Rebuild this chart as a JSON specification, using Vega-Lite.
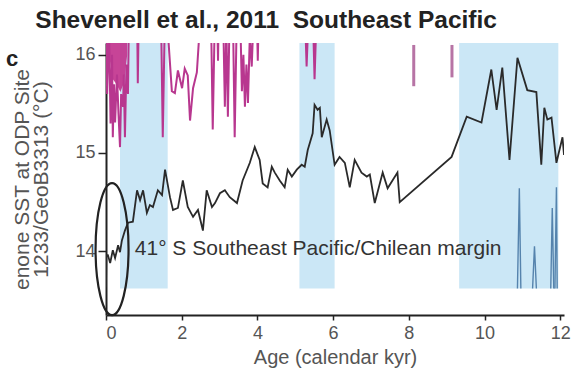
{
  "$schema": "https://vega.github.io/schema/vega-lite/v6.json",
  "width": 458,
  "height": 272,
  "autosize": {"type": "none"},
  "padding": {"left": 106, "top": 43, "right": 8, "bottom": 57},
  "background": "white",
  "config": {
    "view": {"stroke": null},
    "font": "Liberation Sans",
    "axis": {
      "domainColor": "#222", "domainWidth": 2, "tickColor": "#222", "tickWidth": 1.5,
      "labelColor": "#555", "labelFont": "Liberation Sans", "labelFontSize": 18,
      "titleColor": "#555", "titleFont": "Liberation Sans", "titleFontWeight": "normal",
      "grid": false
    }
  },
  "datasets": {
    "bands": [
      {"start": 0.37, "end": 1.63},
      {"start": 5.11, "end": 6.04},
      {"start": 9.33, "end": 11.95}
    ],
    "sst": [
      {"age": 0.0, "sst": 13.63}, {"age": 0.01, "sst": 13.96}, {"age": 0.05, "sst": 13.96},
      {"age": 0.11, "sst": 13.88}, {"age": 0.18, "sst": 14.01}, {"age": 0.24, "sst": 13.93},
      {"age": 0.32, "sst": 14.06}, {"age": 0.37, "sst": 13.99}, {"age": 0.42, "sst": 14.11},
      {"age": 0.5, "sst": 14.21}, {"age": 0.58, "sst": 14.29}, {"age": 0.71, "sst": 14.3},
      {"age": 0.82, "sst": 14.62}, {"age": 0.9, "sst": 14.52}, {"age": 0.98, "sst": 14.62},
      {"age": 1.08, "sst": 14.39}, {"age": 1.16, "sst": 14.47}, {"age": 1.24, "sst": 14.45},
      {"age": 1.37, "sst": 14.62}, {"age": 1.48, "sst": 14.57}, {"age": 1.56, "sst": 14.83},
      {"age": 1.69, "sst": 14.55}, {"age": 1.77, "sst": 14.42}, {"age": 1.9, "sst": 14.44},
      {"age": 2.03, "sst": 14.72}, {"age": 2.16, "sst": 14.45}, {"age": 2.3, "sst": 14.35},
      {"age": 2.43, "sst": 14.42}, {"age": 2.56, "sst": 14.21}, {"age": 2.66, "sst": 14.62},
      {"age": 2.8, "sst": 14.45}, {"age": 2.88, "sst": 14.49}, {"age": 3.01, "sst": 14.59},
      {"age": 3.14, "sst": 14.62}, {"age": 3.27, "sst": 14.55}, {"age": 3.46, "sst": 14.49},
      {"age": 3.61, "sst": 14.72}, {"age": 3.8, "sst": 14.9}, {"age": 3.93, "sst": 15.06},
      {"age": 4.06, "sst": 14.93}, {"age": 4.14, "sst": 14.69}, {"age": 4.27, "sst": 14.65},
      {"age": 4.38, "sst": 14.86}, {"age": 4.46, "sst": 14.8}, {"age": 4.59, "sst": 14.72},
      {"age": 4.72, "sst": 14.65}, {"age": 4.8, "sst": 14.83}, {"age": 4.91, "sst": 14.76},
      {"age": 5.04, "sst": 14.83}, {"age": 5.17, "sst": 14.88}, {"age": 5.25, "sst": 14.86},
      {"age": 5.33, "sst": 15.03}, {"age": 5.46, "sst": 15.2}, {"age": 5.51, "sst": 15.49},
      {"age": 5.59, "sst": 15.44}, {"age": 5.65, "sst": 15.46}, {"age": 5.7, "sst": 15.16},
      {"age": 5.83, "sst": 15.34}, {"age": 5.91, "sst": 15.23}, {"age": 6.04, "sst": 14.88},
      {"age": 6.17, "sst": 14.96}, {"age": 6.31, "sst": 14.9}, {"age": 6.44, "sst": 14.65},
      {"age": 6.57, "sst": 14.93}, {"age": 6.75, "sst": 14.8}, {"age": 6.89, "sst": 14.76},
      {"age": 6.97, "sst": 14.78}, {"age": 7.1, "sst": 14.49}, {"age": 7.31, "sst": 14.8},
      {"age": 7.44, "sst": 14.64}, {"age": 7.7, "sst": 14.8}, {"age": 7.76, "sst": 14.5},
      {"age": 9.13, "sst": 14.96}, {"age": 9.53, "sst": 15.37}, {"age": 9.92, "sst": 15.31},
      {"age": 10.18, "sst": 15.85}, {"age": 10.32, "sst": 15.44}, {"age": 10.47, "sst": 15.87},
      {"age": 10.66, "sst": 14.93}, {"age": 10.87, "sst": 15.97}, {"age": 11.13, "sst": 15.64},
      {"age": 11.37, "sst": 15.62}, {"age": 11.5, "sst": 14.88}, {"age": 11.58, "sst": 15.46},
      {"age": 11.66, "sst": 15.34}, {"age": 11.77, "sst": 15.36}, {"age": 11.9, "sst": 14.9},
      {"age": 12.06, "sst": 15.16}, {"age": 12.1, "sst": 14.98}
    ],
    "pinkfill": [
      {"age": 0.1, "v": 15.95}, {"age": 0.18, "v": 15.75}, {"age": 0.28, "v": 15.7},
      {"age": 0.38, "v": 15.62}, {"age": 0.48, "v": 15.72}, {"age": 0.56, "v": 16.0}
    ],
    "pink": [
      {"age": 0.0, "v": 16.5}, {"age": 0.03, "v": 15.6}, {"age": 0.08, "v": 16.3},
      {"age": 0.12, "v": 15.3}, {"age": 0.16, "v": 16.0}, {"age": 0.18, "v": 15.16},
      {"age": 0.21, "v": 15.7}, {"age": 0.24, "v": 15.31}, {"age": 0.29, "v": 15.8},
      {"age": 0.33, "v": 15.4}, {"age": 0.37, "v": 15.06}, {"age": 0.4, "v": 15.6},
      {"age": 0.45, "v": 15.47}, {"age": 0.47, "v": 15.8}, {"age": 0.5, "v": 15.16},
      {"age": 0.54, "v": 15.9}, {"age": 0.58, "v": 15.6}, {"age": 0.61, "v": 16.5},
      {"age": 0.82, "v": 16.5}, {"age": 0.84, "v": 15.71}, {"age": 0.87, "v": 16.5},
      {"age": 1.45, "v": 16.5}, {"age": 1.5, "v": 15.16}, {"age": 1.56, "v": 16.5},
      {"age": 1.64, "v": 16.2}, {"age": 1.74, "v": 15.63}, {"age": 1.82, "v": 15.61},
      {"age": 1.9, "v": 15.84}, {"age": 2.01, "v": 15.66}, {"age": 2.08, "v": 15.86},
      {"age": 2.16, "v": 15.79}, {"age": 2.22, "v": 15.33}, {"age": 2.3, "v": 15.66},
      {"age": 2.4, "v": 15.82}, {"age": 2.48, "v": 16.3}, {"age": 2.56, "v": 16.5},
      {"age": 2.77, "v": 16.5}, {"age": 2.82, "v": 15.24}, {"age": 2.88, "v": 16.5},
      {"age": 2.93, "v": 16.5}, {"age": 2.96, "v": 15.94}, {"age": 2.98, "v": 16.5},
      {"age": 3.09, "v": 16.5}, {"age": 3.14, "v": 15.47}, {"age": 3.18, "v": 16.3},
      {"age": 3.22, "v": 15.37}, {"age": 3.27, "v": 16.5}, {"age": 3.35, "v": 16.5},
      {"age": 3.4, "v": 15.16}, {"age": 3.46, "v": 16.5}, {"age": 3.54, "v": 16.5},
      {"age": 3.59, "v": 15.63}, {"age": 3.63, "v": 16.0}, {"age": 3.67, "v": 15.47},
      {"age": 3.71, "v": 15.9}, {"age": 3.75, "v": 15.51}, {"age": 3.8, "v": 16.2},
      {"age": 3.85, "v": 15.88}, {"age": 3.91, "v": 16.5}, {"age": 3.98, "v": 16.5},
      {"age": 4.01, "v": 15.94}, {"age": 4.04, "v": 16.5}, {"age": 5.25, "v": 16.5},
      {"age": 5.3, "v": 15.88}, {"age": 5.36, "v": 16.5}, {"age": 5.46, "v": 16.5},
      {"age": 5.51, "v": 15.75}, {"age": 5.57, "v": 16.5}
    ],
    "mauve": [
      {"age": 8.13, "v": 15.68},
      {"age": 9.14, "v": 15.77}
    ],
    "blue": [
      {"spike": "a", "age": 10.87, "v": 13.62}, {"spike": "a", "age": 10.92, "v": 14.64}, {"spike": "a", "age": 10.96, "v": 13.62},
      {"spike": "b", "age": 11.27, "v": 13.62}, {"spike": "b", "age": 11.32, "v": 14.05}, {"spike": "b", "age": 11.37, "v": 13.62},
      {"spike": "c", "age": 11.75, "v": 13.62}, {"spike": "c", "age": 11.79, "v": 14.44}, {"spike": "c", "age": 11.83, "v": 13.62},
      {"spike": "d", "age": 11.86, "v": 13.62}, {"spike": "d", "age": 11.9, "v": 14.65}, {"spike": "d", "age": 11.92, "v": 13.62}
    ],
    "ellipse": [{"age": 0.16, "v": 14.02}],
    "note": [{"age": 0.76, "v": 14.02, "label": "41° S Southeast Pacific/Chilean margin"}],
    "panel": [{"age": -2.48, "v": 15.96, "label": "c"}],
    "heading": [{"age": 4.23, "v": 16.27, "label": "Shevenell et al., 2011\u00a0 Southeast Pacific"}]
  },
  "layer": [
    {
      "data": {"name": "bands"},
      "mark": {"type": "rect", "color": "#cbe7f6", "clip": true},
      "encoding": {
        "x": {"field": "start", "type": "quantitative", "scale": {"domain": [0, 12.1], "nice": false},
          "axis": {"values": [0, 2, 4, 6, 8, 10, 12], "format": "d", "title": "Age (calendar kyr)", "titleFontSize": 20,
            "tickSize": 5, "labelPadding": 4, "titlePadding": 5, "labelFontSize": 18}},
        "x2": {"field": "end"},
        "y": {"datum": 13.62, "type": "quantitative", "scale": {"domain": [13.35, 16.12], "nice": false, "zero": false},
          "axis": {"values": [14, 15, 16], "format": "d", "tickSize": 8, "labelPadding": 3, "labelFontSize": 18,
            "title": ["enone SST at ODP Site", "1233/GeoB3313 (°C)"], "titleFontSize": 21,
            "titleAngle": -90, "titleBaseline": "top", "titleAlign": "center", "titleLineHeight": 19,
            "titleX": -95, "titleY": 136}},
        "y2": {"datum": 16.2}
      }
    },
    {
      "data": {"name": "pinkfill"},
      "mark": {"type": "area", "color": "#c1308c", "opacity": 0.9, "clip": true},
      "encoding": {
        "x": {"field": "age", "type": "quantitative"},
        "y": {"field": "v", "type": "quantitative"},
        "y2": {"datum": 16.3}
      }
    },
    {
      "data": {"name": "pink"},
      "mark": {"type": "line", "color": "#b8378f", "strokeWidth": 2, "clip": true},
      "encoding": {
        "x": {"field": "age", "type": "quantitative"},
        "y": {"field": "v", "type": "quantitative"}
      }
    },
    {
      "data": {"name": "mauve"},
      "mark": {"type": "rule", "color": "#a5518f", "strokeWidth": 3, "opacity": 0.8, "clip": true},
      "encoding": {
        "x": {"field": "age", "type": "quantitative"},
        "y": {"field": "v", "type": "quantitative"},
        "y2": {"datum": 16.1}
      }
    },
    {
      "data": {"name": "blue"},
      "mark": {"type": "line", "color": "#5583ad", "strokeWidth": 1.4, "clip": true},
      "encoding": {
        "x": {"field": "age", "type": "quantitative"},
        "y": {"field": "v", "type": "quantitative"},
        "detail": {"field": "spike"}
      }
    },
    {
      "data": {"name": "sst"},
      "mark": {"type": "line", "color": "#2a2a2a", "strokeWidth": 1.8, "clip": true},
      "encoding": {
        "x": {"field": "age", "type": "quantitative"},
        "y": {"field": "sst", "type": "quantitative"}
      }
    },
    {
      "data": {"name": "ellipse"},
      "mark": {"type": "point", "filled": false, "stroke": "#222", "strokeWidth": 2.2, "opacity": 1, "size": 17424,
        "shape": "M-0.25,0 A0.25,1 0 1,0 0.25,0 A0.25,1 0 1,0 -0.25,0 Z"},
      "encoding": {
        "x": {"field": "age", "type": "quantitative"},
        "y": {"field": "v", "type": "quantitative"}
      }
    },
    {
      "data": {"name": "note"},
      "mark": {"type": "text", "align": "left", "baseline": "middle", "fontSize": 21, "color": "#333", "font": "Liberation Sans"},
      "encoding": {
        "x": {"field": "age", "type": "quantitative"},
        "y": {"field": "v", "type": "quantitative"},
        "text": {"field": "label"}
      }
    },
    {
      "data": {"name": "panel"},
      "mark": {"type": "text", "align": "center", "baseline": "middle", "fontSize": 22, "fontWeight": "bold", "color": "#222", "font": "Liberation Sans"},
      "encoding": {
        "x": {"field": "age", "type": "quantitative"},
        "y": {"field": "v", "type": "quantitative"},
        "text": {"field": "label"}
      }
    },
    {
      "data": {"name": "heading"},
      "mark": {"type": "text", "align": "center", "baseline": "alphabetic", "fontSize": 24.5, "fontWeight": "bold", "color": "#222", "font": "Liberation Sans"},
      "encoding": {
        "x": {"field": "age", "type": "quantitative"},
        "y": {"field": "v", "type": "quantitative"},
        "text": {"field": "label"}
      }
    }
  ]
}
